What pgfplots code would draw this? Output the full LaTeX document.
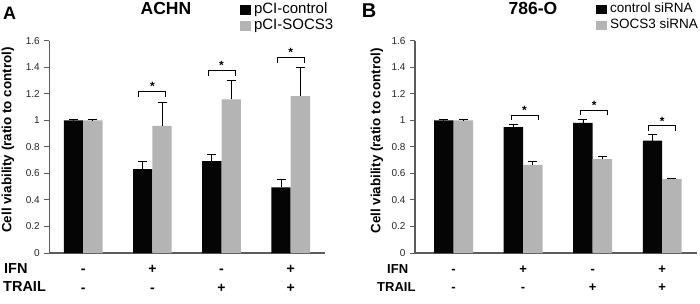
\documentclass[border=0pt]{standalone}
\usepackage{fontspec}
\setmainfont{Liberation Sans}
\usepackage{pgfplots}
\usepackage{pgfplotstable}
\pgfplotsset{compat=1.18}
\definecolor{barblack}{HTML}{050505}
\definecolor{bargray}{HTML}{B4B4B4}
\definecolor{axisgray}{HTML}{5C5C5C}

\pgfplotstableread{
x y e
0 1.000 0.004
1 0.633 0.055
2 0.692 0.050
3 0.495 0.058
}\Ablack
\pgfplotstableread{
x y e
0 1.000 0.004
1 0.959 0.176
2 1.158 0.146
3 1.183 0.217
}\Agray
\pgfplotstableread{
x y e
0 1.000 0.003
1 0.948 0.020
2 0.980 0.030
3 0.847 0.043
}\Bblack
\pgfplotstableread{
x y e
0 1.000 0.003
1 0.664 0.023
2 0.707 0.024
3 0.557 0.006
}\Bgray

\pgfplotsset{
  sqlegend/.style={legend image code/.code={\fill[##1] (0pt,-4.8pt) rectangle (10.5pt,4.8pt);}},
  errs/.style={error bars/.cd, y dir=plus, y explicit,
    error bar style={black, line width=0.9pt},
    error mark options={black, line width=0.9pt, mark size=4.5pt, rotate=90}},
  brk/.style={sharp plot, black, line width=0.9pt, forget plot, no markers},
  panel/.style={
    scale only axis, height=212.3pt,
    ybar=0pt, bar width=0.28,
    ymin=0, ymax=1.6, ytick={0,0.2,0.4,0.6,0.8,1,1.2,1.4,1.6},
    axis x line*=bottom, axis y line*=left,
    axis line style={axisgray, line width=1.1pt},
    xtick={0,1,2,3},
    xticklabels={{\vphantom{+}-\\\vphantom{+}-},{\vphantom{+}+\\\vphantom{+}-},{\vphantom{+}-\\\vphantom{+}+},{\vphantom{+}+\\\vphantom{+}+}},
    x tick style={draw=none},
    y tick style={axisgray, line width=0.9pt},
    tick align=outside, major tick length=5pt,
    /pgf/number format/assume math mode=true,
    yticklabel style={font=\fontsize{10}{12}\selectfont, text=black!85, xshift=-1pt},
    xticklabel style={align=center, yshift=-4pt},
    ylabel={Cell viability (ratio to control)},
    legend cell align=left,
    legend style={draw=none, fill=none, inner sep=0pt, anchor=north west,
      column sep=3.3pt, row sep=3pt,
      nodes={inner sep=0pt, text height=10pt, text depth=3pt}},
  },
}

\begin{document}
\begin{tikzpicture}
\useasboundingbox (0,0) rectangle (700pt,303pt);

% Panel A
\begin{axis}[panel, at={(49.3pt,50pt)}, anchor=south west,
  width=276pt, xmin=-0.49, xmax=3.5,
  xticklabel style={font=\bfseries\fontsize{14}{18.5}\selectfont},
  ylabel style={font=\bfseries\fontsize{13.4}{16}\selectfont,
    at={(axis description cs:-0.1496,0.532)}, anchor=center},
  legend style={at={(axis description cs:0.691,1.176)}, font=\fontsize{15}{17}\selectfont}]
\addplot[bar shift=-0.14, fill=barblack, draw=none, sqlegend, errs]
  table[x=x, y=y, y error=e] {\Ablack};
\addlegendentry{pCI-control}
\addplot[bar shift=0.14, fill=bargray, draw=none, sqlegend, errs]
  table[x=x, y=y, y error=e] {\Agray};
\addlegendentry{pCI-SOCS3}
\addplot[brk] coordinates {(0.805,1.178) (0.805,1.216) (1.195,1.216) (1.195,1.178)};
\addplot[brk] coordinates {(1.805,1.336) (1.805,1.374) (2.195,1.374) (2.195,1.336)};
\addplot[brk] coordinates {(2.805,1.434) (2.805,1.472) (3.195,1.472) (3.195,1.434)};
\node[font=\bfseries\fontsize{12}{12}\selectfont, anchor=base, inner sep=0pt] at (axis cs:1,1.222) {*};
\node[font=\bfseries\fontsize{12}{12}\selectfont, anchor=base, inner sep=0pt] at (axis cs:2,1.380) {*};
\node[font=\bfseries\fontsize{12}{12}\selectfont, anchor=base, inner sep=0pt] at (axis cs:3,1.478) {*};
\end{axis}

% Panel B
\begin{axis}[panel, at={(415pt,50pt)}, anchor=south west,
  width=282pt, xmin=-0.555, xmax=3.5,
  xticklabel style={font=\bfseries\fontsize{13}{18.5}\selectfont},
  ylabel style={font=\bfseries\fontsize{13.4}{16}\selectfont,
    at={(axis description cs:-0.1348,0.528)}, anchor=center},
  legend style={at={(axis description cs:0.642,1.179)}, font=\fontsize{13.5}{16}\selectfont}]
\addplot[bar shift=-0.14, fill=barblack, draw=none, sqlegend, errs]
  table[x=x, y=y, y error=e] {\Bblack};
\addlegendentry{control siRNA}
\addplot[bar shift=0.14, fill=bargray, draw=none, sqlegend, errs]
  table[x=x, y=y, y error=e] {\Bgray};
\addlegendentry{SOCS3 siRNA}
\addplot[brk] coordinates {(0.825,1.002) (0.825,1.040) (1.215,1.040) (1.215,1.002)};
\addplot[brk] coordinates {(1.825,1.040) (1.825,1.078) (2.215,1.078) (2.215,1.040)};
\addplot[brk] coordinates {(2.805,0.920) (2.805,0.958) (3.195,0.958) (3.195,0.920)};
\node[font=\bfseries\fontsize{12}{12}\selectfont, anchor=base, inner sep=0pt] at (axis cs:1.02,1.046) {*};
\node[font=\bfseries\fontsize{12}{12}\selectfont, anchor=base, inner sep=0pt] at (axis cs:2.02,1.084) {*};
\node[font=\bfseries\fontsize{12}{12}\selectfont, anchor=base, inner sep=0pt] at (axis cs:3,0.964) {*};
\end{axis}

% titles and row labels
\node[font=\bfseries\fontsize{18}{18}\selectfont, inner sep=0pt] at (9.5pt,290pt) {A};
\node[font=\bfseries\fontsize{17.5}{18}\selectfont, inner sep=0pt] at (166pt,294.2pt) {ACHN};
\node[font=\bfseries\fontsize{20}{20}\selectfont, inner sep=0pt] at (369pt,292.5pt) {B};
\node[font=\bfseries\fontsize{17.5}{18}\selectfont, inner sep=0pt] at (533pt,294.7pt) {786-O};
\node[font=\bfseries\fontsize{14.5}{16}\selectfont, inner sep=0pt, anchor=west] at (4pt,34.2pt) {IFN};
\node[font=\bfseries\fontsize{14.5}{16}\selectfont, inner sep=0pt, anchor=west] at (3pt,16pt) {TRAIL};
\node[font=\bfseries\fontsize{13}{16}\selectfont, inner sep=0pt, anchor=west] at (387pt,34.2pt) {IFN};
\node[font=\bfseries\fontsize{13}{16}\selectfont, inner sep=0pt, anchor=west] at (377pt,16pt) {TRAIL};
\end{tikzpicture}
\end{document}
